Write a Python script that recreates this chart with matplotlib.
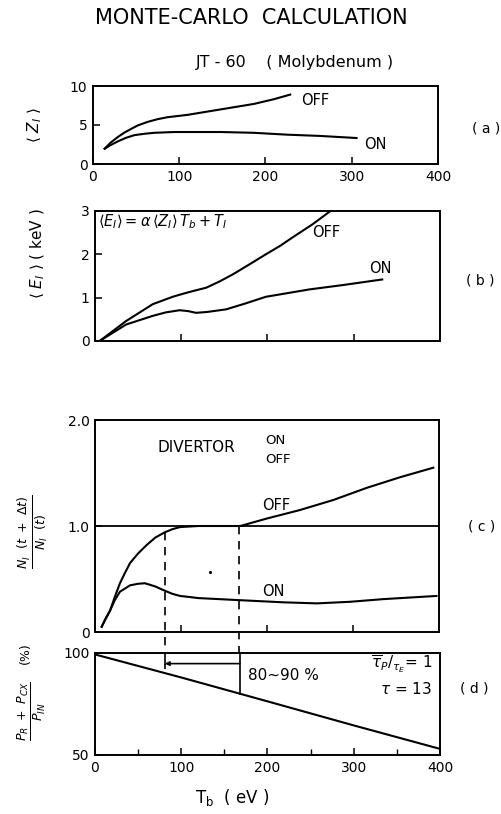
import numpy as np
import matplotlib
matplotlib.use("Agg")
import matplotlib.pyplot as plt

plt.rcParams['font.family'] = ['DejaVu Sans']
plt.rcParams['mathtext.fontset'] = 'dejavusans'

# (a) mean charge <Z_I>
za_off_x = [13.5, 20, 28.8, 36, 44.2, 52, 63.4, 75, 86.5, 109.6, 148, 186.5, 209.5, 228.7]
za_off_y = [1.96, 2.7, 3.46, 4.0, 4.5, 4.95, 5.4, 5.75, 6.0, 6.3, 7.0, 7.7, 8.3, 8.9]
za_on_x = [13.5, 20, 28.8, 38, 48, 60, 71, 94, 148, 186.5, 225, 263, 305.6]
za_on_y = [1.96, 2.4, 2.9, 3.35, 3.7, 3.88, 4.0, 4.1, 4.1, 4.0, 3.76, 3.6, 3.33]

# (b) mean energy <E_I> (keV)
eb_off_x = [5.4, 36, 67, 90, 102, 115, 129, 145, 160, 180, 198, 215, 229, 252, 273]
eb_off_y = [0.0, 0.46, 0.85, 1.02, 1.09, 1.16, 1.23, 1.38, 1.54, 1.78, 2.0, 2.2, 2.39, 2.69, 3.0]
eb_on_x = [5.4, 36, 67, 82, 98, 108, 117, 130, 152, 175, 198, 248.5, 287, 333]
eb_on_y = [0.0, 0.38, 0.58, 0.66, 0.71, 0.69, 0.65, 0.67, 0.73, 0.87, 1.02, 1.19, 1.29, 1.42]

# (c) N_I(t+dt)/N_I(t)
nc_off_x = [7.8, 12, 17.4, 23, 29, 35, 40.7, 50, 60, 70, 81, 90, 99, 120, 140, 169,
            199.6, 238, 277, 316, 354.7, 393.4]
nc_off_y = [0.05, 0.12, 0.2, 0.33, 0.46, 0.56, 0.65, 0.74, 0.82, 0.89, 0.94, 0.97, 0.99,
            1.0, 1.0, 1.0, 1.07, 1.15, 1.245, 1.36, 1.46, 1.55]
nc_on_x = [7.8, 12, 17.4, 23, 29, 40.7, 50, 58, 70, 81, 90, 99, 110, 120, 169, 219, 258,
           296.5, 335, 397]
nc_on_y = [0.05, 0.12, 0.2, 0.3, 0.38, 0.44, 0.455, 0.46, 0.43, 0.39, 0.36, 0.34, 0.33,
           0.32, 0.30, 0.28, 0.27, 0.285, 0.31, 0.34]

# (d) (P_R + P_CX)/P_IN (%)
pd_x = [0, 100, 200, 300, 400]
pd_y = [99.3, 88.0, 76.3, 64.5, 53.0]

# window 80-90 %
t_lo, t_hi = 81, 168
p_lo, p_hi = 90.0, 79.8
p_bracket = 94.8

W, H = 502, 814
fig = plt.figure(figsize=(W / 100, H / 100), dpi=100)


def px_axes(l, t, r, b):
    return fig.add_axes([l / W, 1 - b / H, (r - l) / W, (b - t) / H])


def ftext(x, y, s, **kw):
    fig.text(x / W, 1 - y / H, s, **kw)


def style(ax):
    for sp in ax.spines.values():
        sp.set_linewidth(1.4)
    ax.tick_params(direction='in', length=5, width=1.1, labelsize=10, pad=4,
                   top=False, right=False)
    ax.set_xlim(0, 400)


lw = 1.5

# ---- (a)
ax = px_axes(93, 86, 438, 164)
style(ax)
ax.plot(za_off_x, za_off_y, 'k-', lw=lw)
ax.plot(za_on_x, za_on_y, 'k-', lw=lw)
ax.set_ylim(0, 10)
ax.set_yticks([0, 5, 10])
ax.set_xticks([0, 100, 200, 300, 400])
ax.text(241, 8.2, 'OFF', fontsize=10.5, va='center')
ax.text(314, 2.5, 'ON', fontsize=10.5, va='center')

# ---- (b)
ax = px_axes(95, 211, 440, 341)
style(ax)
ax.plot(eb_off_x, eb_off_y, 'k-', lw=lw)
ax.plot(eb_on_x, eb_on_y, 'k-', lw=lw)
ax.set_ylim(0, 3)
ax.set_yticks([0, 1, 2, 3])
ax.set_xticks([100, 200, 300])
ax.set_xticklabels([])
ax.text(4, 2.75, r'$\langle E_I\rangle = \alpha\,\langle Z_I\rangle\, T_b + T_I$',
        fontsize=10.5, va='center')
ax.text(252, 2.5, 'OFF', fontsize=10.5, va='center')
ax.text(318, 1.68, 'ON', fontsize=10.5, va='center')

# ---- (c)
ax = px_axes(95, 420, 439, 632)
style(ax)
ax.plot(nc_off_x, nc_off_y, 'k-', lw=lw)
ax.plot(nc_on_x, nc_on_y, 'k-', lw=lw)
ax.axhline(1.0, color='k', lw=1.3)
ax.set_ylim(0, 2.0)
ax.set_yticks([0, 1.0, 2.0])
ax.set_yticklabels(['0', '1.0', '2.0'])
ax.set_xticks([100, 200, 300])
ax.set_xticklabels([])
ax.plot([t_lo, t_lo], [0.94, -0.2], 'k--', lw=1.2, dashes=(5, 4), clip_on=False)
ax.plot([t_hi, t_hi], [1.0, -0.2], 'k--', lw=1.2, dashes=(5, 4), clip_on=False)
ax.plot([134], [0.57], 'k.', ms=2.5)
ax.text(73, 1.74, 'DIVERTOR', fontsize=11, va='center')
ax.text(198, 1.81, 'ON', fontsize=9.5, va='center')
ax.text(198, 1.63, 'OFF', fontsize=9.5, va='center')
ax.text(194, 1.19, 'OFF', fontsize=10.5, va='center')
ax.text(194, 0.38, 'ON', fontsize=10.5, va='center')

# ---- (d)
ax = px_axes(95, 653, 440, 755)
style(ax)
ax.plot(pd_x, pd_y, 'k-', lw=lw)
ax.set_ylim(50, 100)
ax.set_yticks([50, 100])
ax.set_xticks([0, 100, 200, 300, 400])
ax.set_xticks([50, 150, 250, 350], minor=True)
ax.tick_params(which='minor', direction='in', length=4, width=1.0)
ax.plot([t_lo, t_lo], [100, p_bracket], 'k-', lw=1.2)
ax.plot([t_lo, t_lo], [p_bracket, p_lo], 'k--', lw=1.2, dashes=(3, 3))
ax.plot([t_hi, t_hi], [100, p_hi], 'k-', lw=1.2)
ax.annotate('', xy=(t_lo, p_bracket), xytext=(t_hi, p_bracket),
            arrowprops=dict(arrowstyle='-|>', color='k', lw=1.2,
                            shrinkA=0, shrinkB=0, mutation_scale=6))
ax.text(177, 89.2, '80~90 %', fontsize=11, va='center')
ax.text(391, 94.3, r'$\overline{\tau}_P/_{\tau_E}$= 1', fontsize=11,
        va='center', ha='right')
ax.text(391, 82.4, r'$\tau$ = 13', fontsize=11, va='center', ha='right')

# ---- labels around the panels
ftext(251, 18, 'MONTE-CARLO  CALCULATION', fontsize=15, ha='center', va='center')
ftext(295, 63, 'JT - 60    ( Molybdenum )', fontsize=11.5, ha='center', va='center')

ftext(35, 125, r'$\langle\ Z_I\ \rangle$', fontsize=11, rotation=90,
      ha='center', va='center')
ftext(38, 254, r'$\langle\ E_I\ \rangle$ ( keV )', fontsize=11, rotation=90,
      ha='center', va='center')
ftext(33, 532, r'$\frac{N_I\ \ (t\ +\ \Delta t)}{N_I\ \ (t)}$', fontsize=13,
      rotation=90, ha='center', va='center')
ftext(32, 711, r'$\frac{P_R\ +\ P_{CX}}{P_{IN}}$', fontsize=13, rotation=90,
      ha='center', va='center')
ftext(25, 653, '(%)', fontsize=9, rotation=90, ha='center', va='center')
ftext(232, 798, r'T$_\mathrm{b}$  ( eV )', fontsize=12, ha='center', va='center')

ftext(486, 128, '( a )', fontsize=10, ha='center', va='center')
ftext(480, 281, '( b )', fontsize=10, ha='center', va='center')
ftext(482, 527, '( c )', fontsize=10, ha='center', va='center')
ftext(474, 689, '( d )', fontsize=10, ha='center', va='center')

fig.savefig('out.png', dpi=100)
